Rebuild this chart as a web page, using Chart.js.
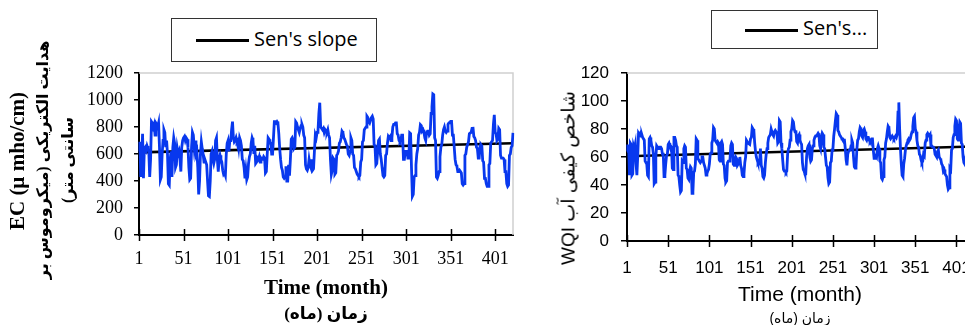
<!DOCTYPE html>
<html>
<head>
<meta charset="utf-8">
<script src="https://cdn.jsdelivr.net/npm/chart.js@4.4.1/dist/chart.umd.min.js"></script>
<style>
    html, body { margin: 0; padding: 0; background: #fff; }
    body { width: 965px; height: 325px; overflow: hidden; position: relative; }
    .panel { position: absolute; top: 0; height: 325px; }
    .legend-box { position: absolute; border: 1.5px solid #333; background: #fff; box-sizing: border-box; }
    .legend-box .swatch { position: absolute; height: 3px; background: #000; }
    .legend-box .label { position: absolute; font-family: "Open Sans", sans-serif; font-size: 20px; color: #000; white-space: nowrap; }
    .txt { position: absolute; white-space: nowrap; color: #000; transform: translate(-50%, -50%); }
    .rot { transform: translate(-50%, -50%) rotate(-90deg); }
</style>
</head>
<body>
<div class="panel" style="left:0; width:520px;"><canvas id="ec-chart"></canvas></div>
<div class="panel" style="left:480px; width:500px;"><canvas id="wqi-chart"></canvas></div>

<div class="legend-box" style="left:171px; top:18px; width:206px; height:44px;">
    <div class="swatch" style="left:24px; width:53px; top:20px;"></div>
    <div class="label" style="left:82px; top:6px;">Sen's slope</div>
</div>
<div class="legend-box" style="left:711px; top:10px; width:167px; height:39px;">
    <div class="swatch" style="left:33px; width:53px; top:18px;"></div>
    <div class="label" style="left:91px; top:3px;">Sen's...</div>
</div>

<div class="txt rot" style="left:17px; top:161px; font:bold 21px 'Liberation Serif', serif;">EC (µ mho/cm)</div>
<div class="txt rot" dir="rtl" style="left:42px; top:160px; font:bold 16px 'Liberation Serif', 'DejaVu Sans', serif;">هدایت الکتریکی (میکروموس بر</div>
<div class="txt rot" dir="rtl" style="left:67px; top:160px; font:bold 16px 'Liberation Serif', 'DejaVu Sans', serif;">سانتی متر)</div>
<div class="txt" style="left:326px; top:287px; font:bold 21px 'Liberation Serif', serif;">Time (month)</div>
<div class="txt" dir="rtl" style="left:326px; top:313px; font:bold 17px 'Liberation Serif', 'DejaVu Sans', serif;">زمان (ماه)</div>

<div class="txt rot" dir="rtl" style="left:568px; top:178px; font:19px 'Liberation Sans', 'DejaVu Sans', sans-serif;">شاخص کیفی آب WQI</div>
<div class="txt" style="left:800px; top:294px; font:21px 'Liberation Sans', sans-serif;">Time (month)</div>
<div class="txt" dir="rtl" style="left:800px; top:318px; font:14px 'Liberation Sans', 'DejaVu Sans', sans-serif;">زمان (ماه)</div>

<script>
// ماه‌ها 1..421
const months = Array.from({ length: 421 }, (_, i) => String(i + 1));

// EC (µ mho/cm)
const ecValues = [
    620, 690, 430, 560, 750, 420, 640, 650, 630, 660,
    640, 620, 430, 560, 840, 830, 800, 820, 740, 830,
    820, 800, 830, 650, 410, 430, 600, 700, 780, 760,
    650, 700, 600, 380, 370, 560, 620, 430, 650, 720,
    680, 500, 520, 640, 600, 620, 560, 470, 650, 700,
    720, 730, 700, 720, 710, 650, 500, 410, 420, 650,
    760, 740, 650, 700, 600, 620, 500, 300, 400, 600,
    690, 640, 600, 540, 560, 540, 520, 400, 290, 285,
    400, 600, 620, 560, 530, 560, 700, 720, 560, 470,
    560, 590, 560, 540, 480, 450, 460, 440, 600, 680,
    700, 620, 700, 700, 780, 840, 720, 690, 700, 720,
    690, 700, 650, 720, 700, 660, 560, 550, 500, 420,
    480, 410, 430, 530, 580, 600, 680, 720, 700, 600,
    660, 530, 540, 570, 560, 580, 540, 570, 560, 560,
    580, 570, 460, 470, 600, 720, 710, 690, 680, 600,
    600, 720, 840, 840, 830, 840, 830, 750, 640, 560,
    500, 480, 430, 420, 430, 510, 400, 400, 520, 440,
    560, 710, 720, 700, 640, 650, 840, 830, 800, 780,
    760, 790, 810, 820, 800, 740, 720, 520, 490, 480,
    500, 560, 520, 500, 560, 480, 490, 620, 740, 720,
    760, 770, 900, 980, 800, 790, 780, 790, 760, 780,
    770, 760, 780, 740, 720, 560, 450, 480, 570, 560,
    450, 460, 590, 600, 620, 680, 690, 720, 770, 760,
    720, 710, 690, 670, 660, 600, 590, 620, 720, 700,
    600, 590, 500, 490, 470, 450, 440, 430, 440, 540,
    560, 690, 700, 780, 790, 800, 880, 870, 840, 830,
    850, 870, 880, 860, 670, 660, 520, 530, 620, 700,
    710, 600, 560, 500, 440, 430, 440, 590, 600, 680,
    730, 720, 730, 700, 720, 800, 820, 820, 830, 830,
    750, 740, 700, 690, 700, 740, 740, 560, 560, 620,
    620, 620, 570, 570, 756, 750, 500, 286, 300, 430,
    440, 520, 600, 640, 740, 760, 817, 810, 770, 780,
    760, 720, 700, 760, 770, 770, 740, 750, 900, 950,
    1045, 1040, 720, 700, 430, 420, 440, 470, 580, 650,
    670, 740, 780, 800, 770, 760, 770, 820, 830, 830,
    842, 842, 740, 740, 650, 560, 520, 510, 470, 470,
    480, 470, 460, 380, 370, 380, 590, 600, 650, 670,
    690, 750, 756, 760, 790, 800, 730, 720, 700, 650,
    640, 570, 570, 660, 670, 660, 550, 540, 420, 420,
    380, 360, 360, 520, 530, 680, 690, 700, 820, 890,
    760, 750, 700, 710, 790, 780, 590, 570, 570, 570,
    560, 470, 470, 380, 360, 370, 590, 600, 650, 660, 756
];

// WQI
const wqiValues = [
    64, 68, 68, 47, 70, 69, 47, 48, 68, 66,
    69, 55, 47, 60, 77, 76, 77, 75, 76, 74,
    73, 72, 57, 56, 55, 47, 46, 73, 74, 72,
    68, 67, 62, 41, 42, 60, 68, 67, 66, 66,
    67, 67, 66, 62, 62, 46, 47, 55, 61, 62,
    69, 70, 68, 68, 67, 52, 51, 74, 74, 72,
    68, 67, 47, 46, 40, 35, 36, 57, 56, 66,
    68, 67, 52, 51, 45, 44, 50, 53, 52, 34,
    35, 49, 50, 55, 73, 72, 59, 58, 57, 56,
    57, 60, 60, 56, 54, 52, 47, 48, 50, 51,
    55, 62, 63, 70, 72, 81, 80, 72, 71, 70,
    71, 70, 58, 57, 70, 71, 69, 55, 54, 45,
    42, 43, 56, 57, 57, 58, 68, 70, 69, 55,
    54, 58, 60, 59, 54, 55, 58, 60, 54, 52,
    47, 46, 48, 56, 60, 72, 71, 70, 70, 69,
    73, 74, 81, 80, 79, 70, 64, 60, 58, 56,
    57, 56, 66, 54, 52, 46, 45, 47, 56, 62,
    66, 70, 74, 75, 76, 80, 80, 76, 75, 78,
    79, 78, 77, 70, 71, 86, 85, 70, 66, 58,
    51, 50, 50, 49, 50, 62, 66, 67, 72, 78,
    80, 86, 85, 80, 78, 79, 71, 70, 75, 76,
    72, 70, 69, 56, 51, 50, 48, 48, 60, 66,
    68, 69, 60, 57, 58, 66, 68, 72, 74, 75,
    75, 76, 77, 76, 68, 66, 74, 77, 76, 67,
    66, 60, 54, 53, 45, 41, 42, 56, 57, 65,
    66, 75, 80, 86, 91, 90, 79, 78, 76, 75,
    74, 73, 73, 72, 72, 66, 58, 54, 62, 64,
    65, 65, 68, 72, 70, 60, 53, 52, 53, 65,
    72, 73, 78, 81, 80, 75, 74, 79, 80, 78,
    73, 72, 74, 74, 72, 71, 72, 73, 73, 65,
    59, 60, 61, 60, 66, 68, 66, 57, 56, 45,
    44, 46, 58, 60, 70, 73, 78, 82, 81, 74,
    73, 74, 75, 74, 73, 74, 75, 74, 76, 92,
    99, 80, 66, 55, 47, 46, 55, 59, 65, 68,
    70, 72, 73, 72, 73, 76, 78, 82, 88, 89,
    80, 78, 72, 68, 67, 62, 61, 58, 56, 57,
    62, 61, 70, 72, 76, 77, 76, 75, 76, 68,
    68, 67, 67, 66, 62, 61, 60, 64, 65, 60,
    59, 58, 55, 54, 50, 51, 48, 47, 46, 40,
    37, 38, 52, 51, 65, 66, 74, 76, 82, 87,
    86, 73, 72, 80, 85, 84, 70, 69, 60, 56,
    55, 58, 62, 66, 70, 68, 64, 60, 65, 70, 72
];

// Sen's slope line: value at first and last month
const ecTrend = [612, 680];
const wqiTrend = [60.5, 67.5];

const yTicksEC = [0, 1200, 200];   // min, max, step
const yTicksWQI = [0, 120, 20];
const xTickEvery = 50;

function trendData(ends) {
    const d = new Array(months.length).fill(null);
    d[0] = ends[0];
    d[months.length - 1] = ends[1];
    return d;
}

// خطوط قاب و تیک‌های محور افقی
const framePlugin = {
    id: 'frame',
    beforeDatasetsDraw(chart) {
        const a = chart.chartArea;
        const c = chart.ctx;
        c.save();
        c.strokeStyle = '#d0d0d0';
        c.lineWidth = 1.5;
        c.beginPath();
        c.moveTo(a.left, a.top);
        c.lineTo(a.right, a.top);
        c.lineTo(a.right, a.bottom);
        c.stroke();
        c.restore();
    },
    afterDraw(chart) {
        const a = chart.chartArea;
        const c = chart.ctx;
        const x = chart.scales.x;
        c.save();
        c.strokeStyle = '#000';
        c.lineWidth = 1.5;
        c.beginPath();
        for (let i = 0; i < months.length; i += xTickEvery) {
            const px = Math.round(x.getPixelForValue(i)) + 0.5;
            c.moveTo(px, a.bottom - 6);
            c.lineTo(px, a.bottom + 6);
        }
        c.stroke();
        c.restore();
    }
};

function makeChart(id, values, trend, yt, opt) {
    const ctx = document.getElementById(id).getContext('2d');
    return new Chart(ctx, {
        type: 'line',
        data: {
            labels: months,
            datasets: [{
                label: 'data',
                data: values,
                borderColor: '#0838ee',
                borderWidth: 2.8,
                pointRadius: 0,
                tension: 0
            }, {
                label: "Sen's slope",
                data: trendData(trend),
                borderColor: '#000',
                borderWidth: 2.6,
                pointRadius: 0,
                spanGaps: true
            }]
        },
        options: {
            responsive: true,
            maintainAspectRatio: false,
            animation: false,
            events: [],
            layout: { padding: { top: opt.top, right: opt.right, left: 0, bottom: 0 } },
            plugins: { legend: { display: false }, tooltip: { enabled: false } },
            scales: {
                x: {
                    offset: false,
                    grid: { display: false },
                    border: { display: true, color: '#000', width: 2 },
                    ticks: {
                        autoSkip: false,
                        maxRotation: 0,
                        padding: opt.xPad,
                        color: '#000',
                        font: { family: opt.font, size: opt.size },
                        callback: (v, i) => (i % xTickEvery === 0 ? months[i] : null)
                    },
                    afterFit: s => { s.height = opt.xHeight; }
                },
                y: {
                    min: yt[0],
                    max: yt[1],
                    grid: { drawOnChartArea: false, color: '#000', lineWidth: 1.5, tickLength: opt.tick },
                    border: { display: true, color: '#000', width: 2 },
                    ticks: {
                        stepSize: yt[2],
                        padding: opt.yPad,
                        color: '#000',
                        font: { family: opt.font, size: opt.size },
                        callback: v => String(v)
                    },
                    afterFit: s => { s.width = opt.yWidth; }
                }
            }
        },
        plugins: [framePlugin]
    });
}

document.addEventListener('DOMContentLoaded', function() {
    makeChart('ec-chart', ecValues, ecTrend, yTicksEC, {
        top: 73, right: 7, xHeight: 90, yWidth: 139, xPad: 5, yPad: 11, tick: 5,
        font: "'Liberation Serif', serif", size: 18
    });
    makeChart('wqi-chart', wqiValues, wqiTrend, yTicksWQI, {
        top: 73, right: 7, xHeight: 84, yWidth: 147, xPad: 9, yPad: 12, tick: 6,
        font: "'Liberation Sans', sans-serif", size: 17
    });
});
</script>
</body>
</html>
